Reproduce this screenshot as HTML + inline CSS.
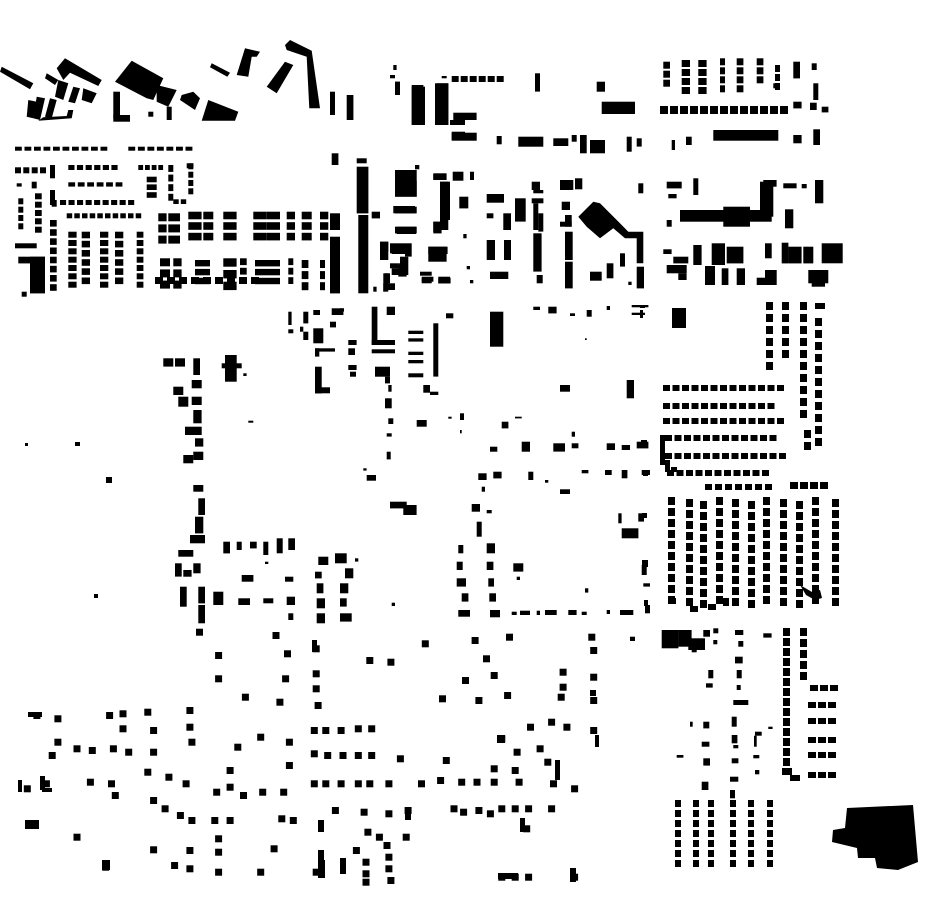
<!DOCTYPE html>
<html><head><meta charset="utf-8"><style>
html,body{margin:0;padding:0;background:#fff;}
svg{display:block}
</style></head><body>
<svg id="s" width="930" height="924" viewBox="0 0 930 924" xmlns="http://www.w3.org/2000/svg">
<rect width="930" height="924" fill="#fff"/>
<g id="g" fill="#000"></g>
</svg>
<script>
var g=document.getElementById('g'),NS='http://www.w3.org/2000/svg';
function r(x,y,w,h){var e=document.createElementNS(NS,'rect');e.setAttribute('x',x.toFixed(1));e.setAttribute('y',y.toFixed(1));e.setAttribute('width',Math.max(w,1).toFixed(1));e.setAttribute('height',Math.max(h,1).toFixed(1));g.appendChild(e);}
function p(pts){var e=document.createElementNS(NS,'polygon');e.setAttribute('points',pts);g.appendChild(e);}
// zoom rect lists
function Z(ox,oy,list,sx,sy){sx=sx||3;sy=sy||3;list.forEach(function(a){r(ox+a[0]/sx,oy+a[1]/sy,(a[2]-a[0])/sx,(a[3]-a[1])/sy);});}
function ZP(ox,oy,pts){var s=[];for(var i=0;i<pts.length;i+=2)s.push((ox+pts[i]/3).toFixed(1)+','+(oy+pts[i+1]/3).toFixed(1));p(s.join(' '));}
// dotted row (horizontal)
function row(x1,x2,y,h,step,w){for(var x=x1;x<=x2-w+0.1;x+=step)r(x,y,w,h);}
function col(x,y1,y2,w,step,h){for(var y=y1;y<=y2-h+0.1;y+=step)r(x,y,w,h);}

// ===== Top-left (zoom1 offset 0,30) =====
var o1x=0,o1y=30;
[[5,110,100,160,90,178,0,125],[140,130,175,150,165,165,135,145],[170,115,195,85,305,150,295,168,210,128,190,150],
[175,150,205,160,190,210,165,200],[220,170,240,175,225,220,205,215],[250,175,290,190,275,220,245,210],
[85,210,110,215,100,265,80,260],[110,200,135,205,120,270,100,265],[150,205,170,210,155,265,135,260],
[115,272,215,265,220,240,205,240,200,258,130,262],[345,155,395,92,490,145,460,210,440,205],
[470,165,530,180,505,230,470,215],[545,195,580,185,600,205,585,240,540,210],[605,272,625,210,715,245,705,272],
[635,100,690,128,682,140,630,112],[710,135,735,55,780,65,770,80,755,80,745,140],[800,170,855,95,880,105,830,190],
[855,45,870,30,935,62,960,235,928,235,920,80,860,60]].forEach(function(a){ZP(o1x,o1y,a);});
Z(o1x,o1y,[[340,185,360,265],[340,255,390,275],[445,245,460,260],[500,230,515,270],[990,185,1005,255],[1040,195,1060,270],
[1185,155,1200,190],[1235,170,1275,285],[1310,160,1345,285],[1350,270,1395,285],[1355,305,1395,330],
[1185,420,1250,500],[1185,530,1250,550],[1185,590,1250,610],[1300,430,1340,450],[1320,455,1345,600],[1300,575,1320,605],
[1140,635,1165,690],[1170,640,1215,670],[1200,680,1225,735],[1170,700,1195,712],[1150,730,1165,785],[1285,650,1340,695],[1265,740,1300,755],[1315,740,1350,760],
[150,405,165,445],[95,455,110,475],[50,460,65,470],[150,480,165,525],[155,510,170,530],[560,400,580,415],
[45,640,110,655],[55,680,135,700],[90,680,135,790],[65,785,80,800],
[995,370,1015,405],[1070,385,1100,400],[1115,545,1140,565],[1120,770,1130,785],[1150,760,1160,785],
[990,550,1020,600],[990,620,1020,790],[1070,410,1105,550],[1075,555,1105,790]]);
// rows/cols in zoom coords
function zrow(a,n){var x1=a[0]/3,y1=o1y+a[1]/3,x2=a[2]/3,h=(a[3]-a[1])/3;var st=(x2-x1)/n;row(x1,x2,y1,h,st,st*0.72);}
function zcol(a,n){var x=a[0]/3,y1=o1y+a[1]/3,y2=o1y+a[3]/3,w=(a[2]-a[0])/3;var st=(y2-y1)/n;col(x,y1,y2,w,st,st*0.72);}
zrow([45,350,330,362],10);zrow([385,350,585,362],7);zrow([45,412,145,430],4);zrow([205,405,360,420],6);zrow([415,405,495,420],4);
zrow([205,457,375,470],6);zrow([180,510,410,525],9);zrow([200,550,430,565],10);
zcol([55,505,70,605],4);zcol([105,490,125,615],5);zcol([150,570,170,790],8);zcol([205,605,230,780],7);zcol([245,605,270,770],6);
zcol([300,605,325,780],7);zcol([345,605,370,770],6);zcol([410,605,430,780],7);zcol([505,405,520,520],4);zcol([565,400,580,500],4);
zcol([440,440,470,510],3);zrow([520,508,565,522],2);
// blocks grid
[[475,550,500,650],[505,550,540,650],[565,545,605,640],[610,545,640,640],[670,545,710,640],[760,545,800,640],[800,545,840,640],[860,545,885,640],[905,545,935,640],[960,545,985,640]].forEach(function(a){zcol(a,3);});
[[480,685,510,785],[520,685,545,785],[585,690,630,770],[670,685,710,790],[720,685,740,770],[765,690,840,770],[865,685,880,770],[905,690,925,790],[960,690,975,790]].forEach(function(a){zcol(a,3);});
row(155,270,277,7,12,8);

// ===== Center/right top (zoom6 offset 380,50) =====
var o6x=380,o6y=50;
Z(o6x,o6y,[[40,45,50,60],[30,75,45,85],[45,95,60,135],[95,105,130,225],[165,100,205,225],[220,188,290,210],[185,78,200,85],
[465,70,480,125],[650,95,675,125],[665,155,765,192],[215,248,290,272],[350,258,365,283],[415,260,490,290],[520,265,565,288],[575,255,590,275],[600,255,620,310],[630,270,675,310],[740,260,755,305],[770,265,785,290],[875,270,885,300],[918,260,935,285],[1000,240,1195,272],[1240,255,1265,280],[1300,238,1320,285],
[1240,155,1265,175],[1290,158,1310,180],[1325,170,1345,187],[1180,100,1200,115],[1240,35,1260,85],[1295,40,1310,60],[1300,100,1315,150],
[45,362,75,392],[45,392,110,440],[40,468,105,490],[50,530,108,552],[0,575,25,605],[35,590,75,600],[35,603,75,612],[75,580,95,620],[30,645,60,655],[35,655,60,675],[55,640,80,680],[15,670,30,700],[20,700,45,720],
[105,345,118,358],[160,372,190,390],[218,365,250,392],[270,365,282,390],[180,395,210,510],[160,515,185,550],[238,440,265,475],[320,432,372,458],[320,490,340,505],[370,490,393,540],[405,445,437,515],
[455,395,480,420],[460,420,490,430],[455,445,490,460],[460,460,475,540],[475,490,490,545],[540,390,580,420],[585,385,607,418],[545,455,570,480],[555,495,575,530],[540,515,575,530],[555,545,578,630],[555,635,578,715],[460,550,485,665],[470,675,488,700],[320,570,345,630],[372,570,393,630],[330,665,385,687],[250,552,260,565],[145,590,203,612],[155,612,195,632],[120,665,155,677],[125,685,155,700],[175,683,212,700],[260,648,270,658],[270,690,280,700],
[680,640,700,685],[630,665,665,692],[720,610,735,650],[745,695,755,705],[770,650,792,715],[775,400,790,430],[860,395,905,415],[865,432,890,445],[940,385,955,435],[860,510,875,530],[900,480,1175,515],[1030,470,1110,530],[1140,395,1180,500],[1150,390,1190,410],[1210,400,1250,415],[1265,402,1280,415],[1305,390,1330,460],[1215,478,1240,535],
[850,598,875,612],[880,620,925,640],[860,645,920,670],[895,670,920,690],[940,585,965,645],[995,580,1035,645],[1040,590,1090,640],[975,648,1005,705],[1025,655,1045,705],[1070,655,1095,705],[1130,683,1160,705],[1155,660,1190,705],[1155,580,1175,625],[1205,578,1225,640],[1225,590,1265,640],[1270,590,1300,640],[1325,580,1388,640],[1285,660,1345,700],[1295,695,1335,710]]);
ZP(o6x,o6y,[595,500,640,455,660,460,725,525,745,545,790,545,790,640,770,640,770,565,735,565,700,535,660,565,620,530]);
// rows in zoom6
row(o6x+215/3,o6x+385/3,o6y+78/3,6,9,7);
row(o6x+840/3,o6x+1240/3,o6y+168/3,8,10,8);
[[850,35,870,135],[905,30,930,135],[955,30,980,135],[1020,25,1035,130],[1070,25,1090,135],[1130,25,1150,120],[1185,45,1200,120]].forEach(function(a){col(o6x+a[0]/3,o6y+a[1]/3,o6y+a[3]/3,(a[2]-a[0])/3,9,7);});

// ===== Middle (zoom5 offset 140,300) =====
var o5x=140,o5y=300;
Z(o5x,o5y,[[445,35,455,75],[490,35,505,70],[520,30,540,45],[575,25,610,45],[570,65,588,82],[445,88,460,100],[480,80,490,95],[490,95,505,120],[520,85,550,130],[600,25,612,35],
[695,20,712,135],[695,120,765,135],[695,148,765,160],[740,20,765,45],[805,92,850,102],[805,115,850,125],[805,155,850,165],[805,180,850,190],[805,220,850,232],[880,70,895,230],[1050,35,1090,140],[918,40,940,55],
[525,145,585,155],[525,145,538,170],[525,200,545,280],[525,262,570,280],[255,165,290,245],[245,190,305,205],[310,220,320,228],[625,120,650,135],[625,145,645,165],[625,195,650,210],[630,215,648,230],[705,200,750,230],[735,230,750,250],[745,255,755,275],[735,295,755,325],[850,255,870,278],[870,275,895,285],[745,355,760,372],[740,400,755,410],[740,455,752,478],[830,360,860,380],[960,340,972,360],[925,350,935,356],[960,390,965,400],[1085,365,1105,385],[1125,350,1145,355],[670,505,680,512],[680,525,708,542],[750,605,800,625],[790,615,830,645],[325,362,340,368],
[70,175,100,200],[105,175,135,200],[160,175,180,225],[100,260,130,285],[115,290,145,320],[155,240,185,265],[155,290,185,315],[160,330,185,370],[135,380,185,405],[165,415,190,440],[130,465,160,490],[160,455,190,480],[160,555,190,575],[175,595,195,645],[165,650,190,700],[150,705,195,730],[115,750,160,770],[105,790,125,830],[130,810,155,830],[160,790,182,820],[120,860,140,920],[175,860,195,910],[175,915,195,970],
[250,725,270,760],[290,725,305,750],[330,725,350,745],[370,725,385,765],[410,715,428,760],[445,715,465,750],[305,825,340,845],[435,830,460,845],[220,875,250,915],[295,895,330,915],[370,895,400,910],[440,890,465,915],[445,940,460,960],[525,815,545,835],[530,850,550,880],[530,895,555,925],[530,940,555,970],[600,850,625,880],[600,895,620,920],[600,940,635,965],[535,770,565,795],[585,760,620,790],[615,805,640,835],[755,908,765,918],[375,785,385,792],[645,775,655,785],
[955,735,970,760],[950,785,968,810],[950,835,978,860],[965,880,985,905],[955,930,990,950],[1040,730,1065,760],[1040,785,1060,810],[1045,835,1062,860],[1048,880,1068,905],[1050,930,1080,952],[1115,935,1130,945],[1140,932,1170,945],[1190,932,1200,945],[1215,930,1250,945],[1285,930,1310,945],[1325,935,1340,945],[1400,930,1410,942],[1440,930,1480,945],[1515,915,1530,940],[1120,790,1150,815],[1130,830,1140,840],[1505,795,1520,825],[1510,850,1530,860],[1335,865,1345,878],
[1010,665,1025,710],[995,612,1020,635],[1040,630,1055,640],[1015,520,1040,540],[1060,515,1085,535],[1025,560,1035,575],[1165,515,1180,540],[1215,540,1225,548],[1260,568,1290,582],[1325,510,1345,520],[1395,510,1415,525],[1445,510,1462,535],[1505,510,1530,525],[1435,640,1445,670],[1495,640,1512,665],[1445,685,1495,715],[1050,440,1072,455],[1145,425,1170,455],[1240,430,1275,455],[1295,430,1315,445],[1400,430,1425,450],[1445,435,1470,450],[1490,425,1525,445],[1295,395,1305,410],[1260,255,1290,275],[1460,240,1482,295],[1180,20,1200,30],[1225,20,1250,40],[1290,40,1305,48],[1340,30,1355,50],[1400,18,1410,30],[1475,15,1525,22],[1475,38,1515,45],[1335,115,1340,120]]);
r(75,442,5,4);r(106,477,6,6);r(94,594,4,4);r(25,443,3,3);

// ===== Right middle (zoom3 offset 640,290) =====
[385,340,435,490].forEach(function(){});
[[663,385],[663,403],[663,418],[665,435],[665,453],[667,470]].forEach(function(a,i){var x2=[787,782,790,785,790,778][i];row(a[0],x2,a[1],6,9.5,7);});
row(790,835,482,7,10,8);row(705,775,484,6,10,7);
col(766,302,370,7,12,8);col(782,302,362,7,12,8);col(800,302,425,7,12,8);col(815,318,450,7,12,8);r(815,303,10,6);
col(804,430,455,7,12,8);r(660,435,5,30);r(665,460,5,12);r(671,467,6,5);
[668,686,700,716,732,748,763,780,796,812,832].forEach(function(x,i){col(x,497+(i%3)*2,610,7,11,8);});
r(670,598,6,6);r(690,606,8,6);r(708,604,8,6);r(723,598,6,8);
r(672,308,14,20);r(640,305,5,3);r(640,310,3,8);r(641,440,6,8);r(643,470,5,6);r(642,513,5,5);r(642,560,6,7);r(644,600,4,6);
p('800,585 812,592 820,590 822,598 815,600 806,595');

// ===== Right bottom (zoom4 offset 620,615) =====
var o4x=620,o4y=615;
Z(o4x,o4y,[[30,65,45,78],[125,45,175,100],[175,45,215,95],[205,70,255,105],[215,100,230,112],[250,45,270,65],[280,40,295,55],[280,75,292,88],[345,45,370,60],[355,78,370,95],[345,125,368,145],[350,165,365,190],[350,210,362,225],[340,255,385,270],[335,305,350,335],[335,360,352,385],[340,390,355,400],[335,430,355,445],[330,485,355,500],[330,525,345,550],[265,165,280,190],[258,205,278,218],[210,320,218,335],[250,320,268,340],[245,380,268,395],[250,430,270,452],[245,500,265,525],[170,420,190,428],[405,350,425,362],[402,362,410,395],[400,420,418,430],[405,465,418,478],[445,335,458,342],[430,55,455,68]]);
col(783,628,775,7,10,8);col(800,628,690,7,11,8);
[[802,685],[800,702],[800,718],[800,737],[800,752],[800,772]].forEach(function(a){row(a[0]+8,840,a[1],6,10,8);});
r(782,768,10,7);r(790,775,10,6);
[675,693,708,730,748,767].forEach(function(x){col(x,800,872,6,10,7);});
p('847,808 913,805 918,862 898,870 877,868 875,858 858,858 857,848 832,842 833,830 845,828');

// ===== Lower left scatter (zoom2, x scale 2.613, y scale 3) =====
var pts=[[520,35],[720,45],[825,85],[570,105],[750,100],[965,120],[1020,125],[1110,70],[1240,60],[1330,50],[1545,50],[1270,115],[1550,90],[570,175],[745,175],[825,160],[825,205],[640,230],[730,245],[830,255],[1155,235],[1250,240],[1290,165],[1325,225],[1215,180],[1470,155],[1470,200],[1465,230],[1550,170],[1550,240],
[95,285],[150,295],[285,285],[320,280],[385,275],[495,270],[495,320],[320,325],[400,330],[150,365],[200,385],[240,390],[295,385],[335,395],[400,395],[500,365],[135,405],[620,380],[680,350],[755,365],[820,330],[850,330],[890,330],[935,325],[970,325],[820,400],[855,405],[895,405],[935,405],[970,405],[1045,415],[1165,420],[1310,355],[1350,395],[1385,320],[1440,305],[1480,320],[1410,385],[1430,425],[1550,330],
[1290,445],[1345,450],[755,435],[600,450],[70,505],[120,490],[235,485],[290,490],[300,525],[385,455],[440,470],[485,490],[600,500],[565,515],[635,525],[685,515],[740,515],[820,490],[850,490],[890,490],[935,490],[965,490],[1015,490],[1100,490],[1150,480],[1205,485],[1245,485],[1290,485],[1355,485],[1445,490],[1500,505],
[400,540],[430,565],[470,585],[500,600],[560,600],[600,600],[735,595],[765,600],[875,570],[950,575],[1015,580],[1065,570],[1185,565],[1210,575],[1250,570],[1280,580],[1310,565],[1345,565],[1380,565],[1440,565],[1375,625],[90,610],[200,650],[960,635],[990,650],[1060,650],[1010,675],[930,690],[955,725],[1015,710],[955,760],[1015,745],[955,785],[1020,780],[570,655],[570,695],[495,690],[400,688],[715,685],[275,740],[455,735],[495,745],[570,755],[680,755],[825,755],[1310,770],[1345,770],[1380,770],[1500,770]];
pts.forEach(function(a){r(a[0]/2.613-3,620+a[1]/3-3,7,7);});
// extras / larger pieces
r(28,712,14,5);r(25,820,14,9);r(18,780,4,12);r(40,776,5,14);r(42,788,10,4);r(102,860,8,10);r(318,850,6,13);r(318,860,7,18);r(340,858,6,16);
r(498,873,20,6);r(570,868,6,14);r(497,735,8,8);r(555,760,5,20);r(595,735,4,12);r(590,690,6,6);
r(312,640,5,12);r(318,820,6,12);r(405,808,6,12);r(520,818,5,14);
</script>
</body></html>
